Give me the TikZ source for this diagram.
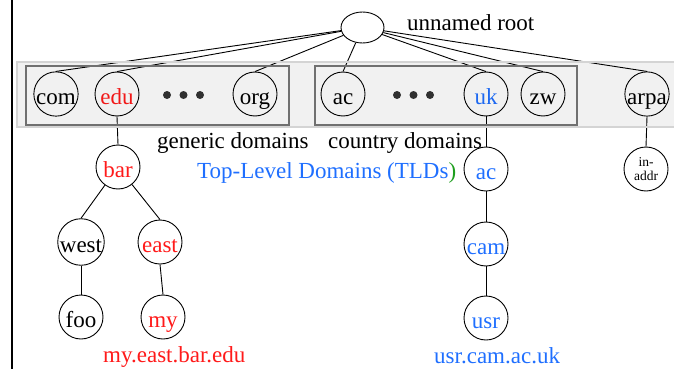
\documentclass[tikz,border=0pt]{standalone}
\usepackage{fontspec}
\setmainfont{Liberation Serif}
\usetikzlibrary{shapes.geometric}
\definecolor{dnsred}{HTML}{FF1A1A}
\definecolor{dnsblue}{HTML}{1F6FFF}
\definecolor{dnsgreen}{HTML}{1E9E1E}
\definecolor{dotgray}{HTML}{333333}
\definecolor{bandborder}{HTML}{D4D4D4}
\definecolor{boxgray}{HTML}{707070}
\begin{document}
\begin{tikzpicture}[x=1pt,y=-1pt,
  circ/.style={circle, draw, line width=0.9pt, minimum size=44pt, inner sep=0pt},
  dom/.style={circ, font=\fontsize{23}{26}\selectfont, text height=20pt, text depth=0pt},
  lbl/.style={font=\fontsize{23}{26}\selectfont, inner sep=0pt, anchor=base west},
  link/.style={draw, line width=0.9pt},
  dotn/.style={circle, fill=dotgray, minimum size=8pt, inner sep=0pt}]
\useasboundingbox (0,0) rectangle (674,369);
% root
\node[ellipse, draw, line width=0.9pt, minimum width=43pt, minimum height=31pt, inner sep=0pt] (root) at (362.5,27.5) {};
\node[lbl] (rootlbl) at (407,31) {unnamed root};
% top-level domains
\node[dom] (com) at (56,94) {com};
\node[dom, text=dnsred] (edu) at (117,94) {edu};
\node[dotn] (d1) at (167,95) {};
\node[dotn] (d2) at (183.5,95) {};
\node[dotn] (d3) at (200,95) {};
\node[dom] (org) at (255,94) {org};
\node[dom] (ac) at (343,94) {ac};
\node[dotn] (d4) at (397,95) {};
\node[dotn] (d5) at (413.5,95) {};
\node[dotn] (d6) at (430,95) {};
\node[dom, text=dnsblue] (uk) at (486,94) {uk};
\node[dom] (zw) at (543,94) {zw};
\node[dom] (arpa) at (647,94) {arpa};
% lower levels
\node[dom, text=dnsred] (bar) at (118,167) {bar};
\node[dom] (west) at (81,242) {west};
\node[dom, text=dnsred] (east) at (160,242) {east};
\node[dom] (foo) at (81,317) {foo};
\node[dom, text=dnsred] (my) at (163,317) {my};
\node[dom, text=dnsblue] (ac2) at (486,169) {ac};
\node[dom, text=dnsblue] (cam) at (486,244) {cam};
\node[dom, text=dnsblue] (usr) at (486,318) {usr};
\node[circ, font=\fontsize{13.5}{14}\selectfont, align=center] (inaddr) at (646,169) {in-\\addr};
% labels
\node[lbl] (gen) at (157,148) {generic domains};
\node[lbl] (ctry) at (328,148) {country domains};
\node[lbl, text=dnsblue] (tld) at (197,178) {Top-Level Domains (TLDs\textcolor{dnsgreen}{)}};
\node[lbl, text=dnsred] (ex1) at (103,362) {my.east.bar.edu};
\node[lbl, text=dnsblue] (ex2) at (434,363) {usr.cam.ac.uk};
% connectors
\foreach \n in {com,edu,org,ac,uk,zw,arpa} \draw[link] (root) -- (\n.north);
\draw[link] (edu.south) -- (bar.north);
\draw[link] (bar) -- (west.north);
\draw[link] (bar) -- (east.north);
\draw[link] (west.south) -- (foo.north);
\draw[link] (east.south) -- (my.north);
\draw[link] (uk.south) -- (ac2.north);
\draw[link] (ac2.south) -- (cam.north);
\draw[link] (cam.south) -- (usr.north);
\draw[link] (arpa.south) -- (inaddr.north);
% band overlay
\fill[black, fill opacity=0.055] (17,62) rectangle (690,127);
\draw[bandborder, line width=1.5pt] (17,62) rectangle (690,127);
\draw[boxgray, line width=1.2pt] (26,66) rectangle (289,125);
\draw[boxgray, line width=1.2pt] (315,66) rectangle (577,125);
% left rule
\draw[line width=1.6pt] (12,0) -- (12,369);
\end{tikzpicture}
\end{document}
